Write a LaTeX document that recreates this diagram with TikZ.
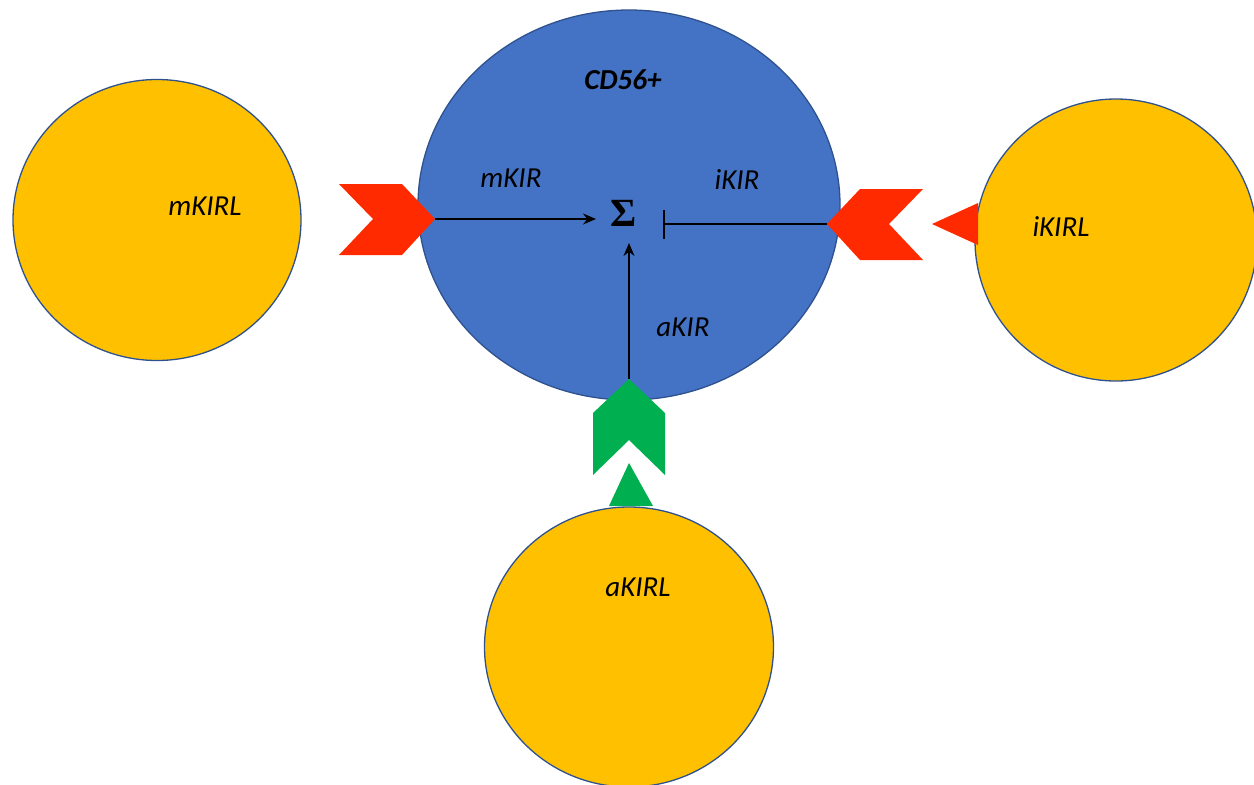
\documentclass[tikz,border=0pt]{standalone}
\usepackage{fontspec}
\setmainfont{Carlito}
\newfontfamily\sigfont{Liberation Serif}
\usetikzlibrary{arrows.meta,shapes.geometric}
\definecolor{cellblue}{HTML}{4472C4}
\definecolor{edgeblue}{HTML}{2F528F}
\definecolor{ligand}{HTML}{FFC000}
\definecolor{actred}{HTML}{FF2A00}
\definecolor{actgreen}{HTML}{00B050}
\tikzset{
  cell/.style={fill=ligand,draw=edgeblue,line width=1.3pt},
  lab/.style={font=\fontsize{29}{32}\selectfont\itshape,inner sep=0pt},
  conn/.style={line width=1.8pt,black},
}
\begin{document}
\begin{tikzpicture}[x=1pt,y=-1pt]
\useasboundingbox (0,0) rectangle (1254,785);
% cells
\fill[cellblue,draw=edgeblue,line width=1.3pt] (629,205) ellipse [x radius=211,y radius=195];
\node[cell,ellipse,minimum width=288pt,minimum height=281pt] (mcell) at (157,220) {};
\node[cell,ellipse,minimum width=282pt,minimum height=282pt] (icell) at (1116,240) {};
\node[cell,ellipse,minimum width=289pt,minimum height=280pt] (acell) at (629,647) {};
% receptors
\fill[actred] (339,184) -- (402,184) -- (435,219) -- (402,255) -- (339,255) -- (373,219) -- cycle;
\fill[actred] (827,224) -- (860,189) -- (923,189) -- (889,224) -- (923,260) -- (860,260) -- cycle;
\fill[actred] (932,224) -- (978,203) -- (978,245) -- cycle;
\fill[actgreen] (629,379) -- (665,413) -- (665,475) -- (629,440) -- (593,475) -- (593,413) -- cycle;
\fill[actgreen] (629,463) -- (653,506) -- (609,506) -- cycle;
\coordinate (mtip) at (435,219);
\coordinate (itip) at (827,224);
\coordinate (atip) at (629,379);
\coordinate (mend) at (596,219);
\coordinate (iend) at (663,224);
\coordinate (aend) at (629,243);
% labels
\node[lab,font=\fontsize{29}{32}\selectfont\bfseries\itshape] (cd) at (623,80) {CD56+};
\node[lab] (mkir) at (511,178) {mKIR};
\node[lab] (ikir) at (737,180) {iKIR};
\node[lab] (akir) at (683,327) {aKIR};
\node[lab] (mkirl) at (205,206) {mKIRL};
\node[lab] (ikirl) at (1061,227) {iKIRL};
\node[lab] (akirl) at (638,587) {aKIRL};
\node[inner sep=0pt,font=\fontsize{40}{40}\selectfont\sigfont\bfseries] (sig) at (624,213) {Σ};
% connectors
\draw[conn,-{Stealth[length=13pt,width=11pt]}] (mtip) -- (mend);
\draw[conn,-{Bar[width=29pt,line width=1.8pt]}] (itip) -- (iend);
\draw[conn,-{Stealth[length=13pt,width=11pt]}] (atip) -- (aend);
\end{tikzpicture}
\end{document}
